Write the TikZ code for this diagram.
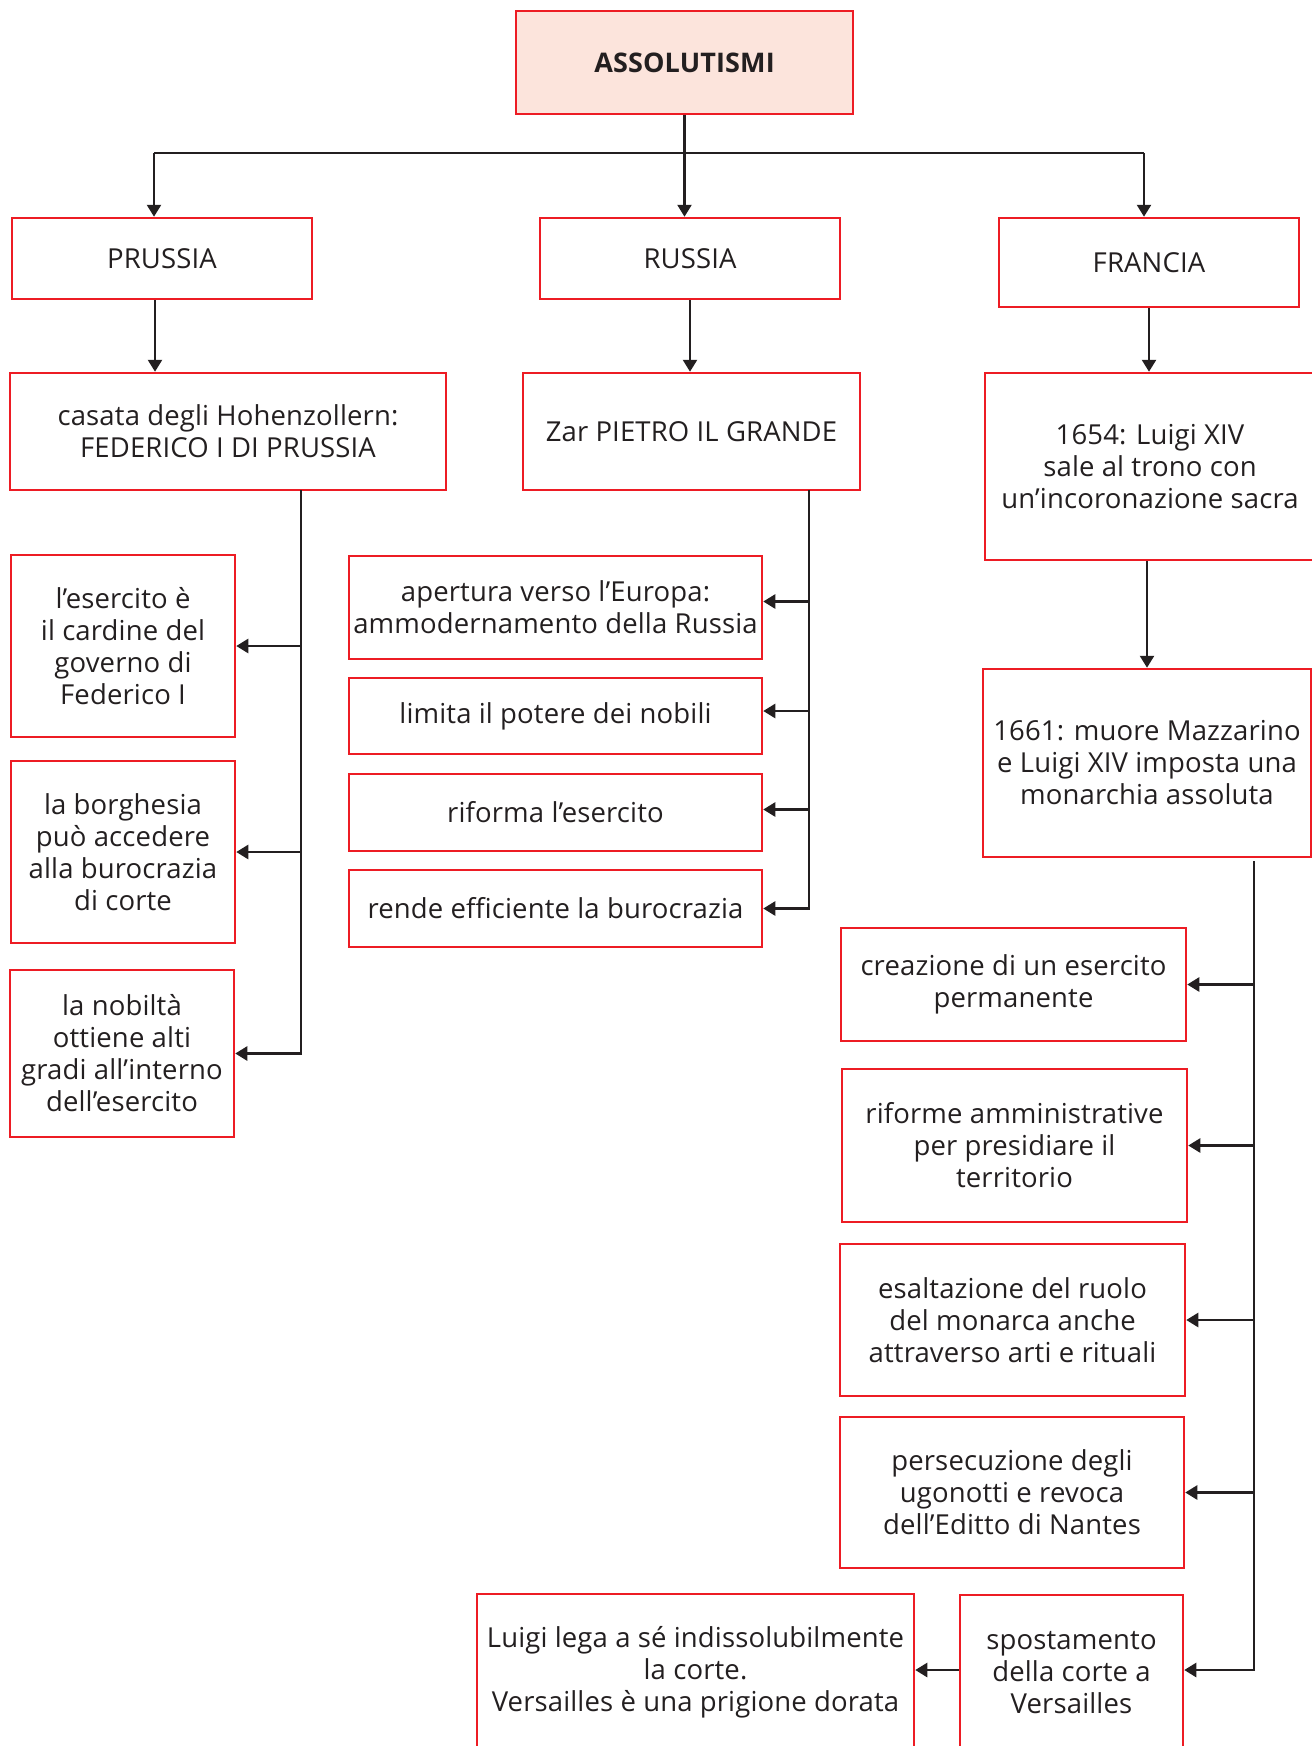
\documentclass[tikz,border=0pt]{standalone}
\usepackage{fontspec}
\setmainfont[LetterSpace=0.5]{Open Sans}
\usepackage{tikz}
\usetikzlibrary{positioning,arrows.meta}
\definecolor{boxred}{HTML}{ED1C24}
\definecolor{boxpink}{HTML}{FCE4DC}
\definecolor{ink}{HTML}{231F20}

\begin{document}
\begin{tikzpicture}[x=1pt,y=-1pt,
	box/.style={draw=boxred,line width=2.5pt,align=center,inner sep=0pt,text=ink,
		font=\fontsize{27.5}{32}\selectfont},
	link/.style={draw=ink,line width=2.5pt},
	arr/.style={link,-{Triangle[length=12pt,width=14pt]}}]
	\useasboundingbox (0,0) rectangle (1312,1746);
	\clip (0,0) rectangle (1312,1746);

	\node[box,fill=boxpink,minimum width=337,minimum height=103,font=\fontsize{27}{32}\selectfont\bfseries] (top) at (684.5,62.5) {ASSOLUTISMI};

	\node[box,minimum width=300,minimum height=81] (prussia) at (162,258.5) {PRUSSIA};
	\node[box,minimum width=300,minimum height=81] (russia) at (690,258.5) {RUSSIA};
	\node[box,minimum width=300,minimum height=89] (francia) at (1149,262.5) {FRANCIA};

	\node[box,minimum width=436,minimum height=117] (casata) at (228,431.5) {casata degli Hohenzollern:\\FEDERICO I DI PRUSSIA};
	\node[box,minimum width=337,minimum height=117] (zar) at (691.5,431.5) {Zar PIETRO IL GRANDE};
	\node[box,minimum width=330,minimum height=187] (trono) at (1150,466.5) {1654: Luigi XIV\\sale al trono con\\un’incoronazione sacra};
	\node[box,minimum width=328,minimum height=188] (mazzarino) at (1147,763) {1661: muore Mazzarino\\e Luigi XIV imposta una\\monarchia assoluta};

	\node[box,minimum width=224,minimum height=182] (esercito) at (123,646) {l’esercito è\\il cardine del\\governo di\\Federico I};
	\node[box,minimum width=224,minimum height=182] (borghesia) at (123,852) {la borghesia\\può accedere\\alla burocrazia\\di corte};
	\node[box,minimum width=224,minimum height=167] (nobilta) at (122,1053.5) {la nobiltà\\ottiene alti\\gradi all’interno\\dell’esercito};

	\node[box,minimum width=413,minimum height=103] (apertura) at (555.5,607.5) {apertura verso l’Europa:\\ammodernamento della Russia};
	\node[box,minimum width=413,minimum height=76] (limita) at (555.5,716) {limita il potere dei nobili};
	\node[box,minimum width=413,minimum height=77] (riforma) at (555.5,812.5) {riforma l’esercito};
	\node[box,minimum width=413,minimum height=77] (rende) at (555.5,908.5) {rende efficiente la burocrazia};

	\node[box,minimum width=345,minimum height=113] (creazione) at (1013.5,984.5) {creazione di un esercito\\permanente};
	\node[box,minimum width=345,minimum height=153] (amministr) at (1014.5,1145.5) {riforme amministrative\\per presidiare il\\territorio};
	\node[box,minimum width=345,minimum height=152] (esalta) at (1012.5,1320) {esaltazione del ruolo\\del monarca anche\\attraverso arti e rituali};
	\node[box,minimum width=344,minimum height=151] (ugonotti) at (1012,1492.5) {persecuzione degli\\ugonotti e revoca\\dell’Editto di Nantes};
	\node[box,minimum width=223,minimum height=156] (versailles) at (1071.5,1673) {spostamento\\della corte a\\Versailles};
	\node[box,minimum width=437,minimum height=156] (prigione) at (695.5,1672) {Luigi lega a sé indissolubilmente\\la corte.\\Versailles è una prigione dorata};

	\coordinate (split) at (684.5,153);
	\coordinate (splitl) at (154,153);
	\coordinate (splitr) at (1144,153);
	\draw[link] (top) -- (split);
	\draw[link] (splitl) -- (splitr);
	\draw[arr] (splitl) -- (splitl |- prussia.north);
	\draw[arr] (split) -- (split |- russia.north);
	\draw[arr] (splitr) -- (splitr |- francia.north);

	\draw[arr] ([xshift=-7]prussia.south) -- ([xshift=-7]prussia.south |- casata.north);
	\draw[arr] (russia.south) -- (russia.south |- zar.north);
	\draw[arr] (francia.south) -- (francia.south |- trono.north);
	\draw[arr] (trono.south -| mazzarino.north) -- (mazzarino.north);

	\coordinate (pbus) at (301,490);
	\draw[arr] (pbus) |- (nobilta.east);
	\draw[arr] (pbus |- esercito.east) -- (esercito.east);
	\draw[arr] (pbus |- borghesia.east) -- (borghesia.east);

	\coordinate (rbus) at (809,490);
	\draw[arr] (rbus) |- (rende.east);
	\draw[arr] (rbus |- apertura.east) ++(0,-6) -- ([yshift=6]apertura.east);
	\draw[arr] (rbus |- limita.east) ++(0,-5) -- ([yshift=5]limita.east);
	\draw[arr] (rbus |- riforma.east) ++(0,-3) -- ([yshift=3]riforma.east);

	\coordinate (fbus) at (1254,861);
	\draw[arr] (fbus) |- ([yshift=3]versailles.east);
	\draw[arr] (fbus |- creazione.east) -- (creazione.east);
	\draw[arr] (fbus |- amministr.east) -- (amministr.east);
	\draw[arr] (fbus |- esalta.east) -- (esalta.east);
	\draw[arr] (fbus |- ugonotti.east) -- (ugonotti.east);
	\draw[arr] ([yshift=3]versailles.west) -- ([yshift=3]versailles.west -| prigione.east);
\end{tikzpicture}
\end{document}
